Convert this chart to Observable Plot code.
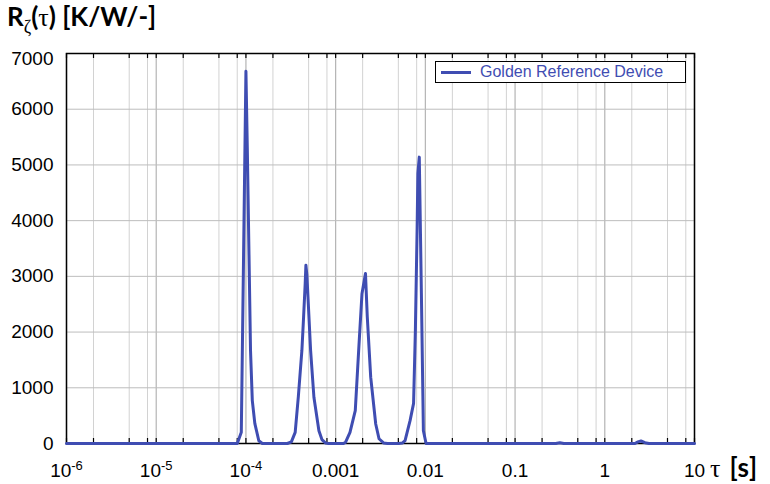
<!DOCTYPE html>
<html>
<head>
<meta charset="utf-8">
<script src="https://cdn.jsdelivr.net/npm/d3@7"></script>
<script src="https://cdn.jsdelivr.net/npm/@observablehq/plot@0.6"></script>
<style>
  html, body { margin: 0; padding: 0; background: #fff; }
  #wrap { position: relative; width: 770px; height: 484px; overflow: hidden; }
  #wrap svg { position: absolute; left: 0; top: 0; }
  .title { position: absolute; left: 7px; top: 1px; font: 700 26px Lato, sans-serif; line-height: 30px; color: #000; white-space: nowrap; }
  .serif { font-family: "Liberation Serif", "DejaVu Serif", serif; font-weight: 400; }
  .xlab { position: absolute; left: 710px; top: 452px; font: 700 26px Lato, sans-serif; line-height: 30px; white-space: nowrap; }
  .legend { position: absolute; left: 435px; top: 61px; width: 249px; height: 20px; border: 1px solid #000; background: #fff; }
  .legend .swatch { position: absolute; left: 5px; top: 9px; width: 30px; height: 3px; }
  .legend .txt { position: absolute; left: 44px; top: 0px; font: 16px "Liberation Sans", Arial, sans-serif; line-height: 20px; white-space: nowrap; }
</style>
</head>
<body>
<div id="wrap"></div>
<script>
// ---- data ----
const seriesName = "Golden Reference Device";
const tau = [
  1e-6, 8.01e-5, 8.88e-5, 1.0e-4, 1.036e-4, 1.125e-4, 1.178e-4, 1.256e-4, 1.392e-4, 1.523e-4,
  2.896e-4, 3.21e-4, 3.54e-4, 3.843e-4, 4.205e-4, 4.393e-4, 4.577e-4, 4.661e-4, 4.782e-4, 5.26e-4,
  5.726e-4, 6.51e-4, 7.033e-4, 7.694e-4, 8.313e-4,
  1.222e-3, 1.287e-3, 1.445e-3, 1.655e-3, 1.806e-3, 1.966e-3, 2.07e-3, 2.151e-3, 2.253e-3, 2.459e-3,
  2.797e-3, 3.044e-3, 3.418e-3, 3.787e-3,
  5.025e-3, 5.57e-3, 5.94e-3, 6.754e-3, 7.391e-3, 7.741e-3, 8.087e-3, 8.254e-3, 8.556e-3, 9.03e-3,
  9.508e-3, 1.019e-2,
  0.2844, 0.3154, 0.3495,
  2.168, 2.342, 2.53, 2.804, 3.107,
  10
];
const rzeta = [
  0, 0, 200, 6680, 5300, 1670, 770, 360, 50, 0,
  0, 30, 200, 850, 1670, 2270, 2870, 3200, 3020, 1670,
  830, 230, 70, 10, 0,
  0, 20, 200, 590, 1670, 2690, 2900, 3050, 2270, 1190,
  350, 85, 10, 0,
  0, 10, 50, 410, 720, 2030, 3820, 4850, 5140, 2700,
  230, 0,
  0, 15, 0,
  0, 30, 45, 15, 0,
  0
];
const xDecades = [1e-6, 1e-5, 1e-4, 1e-3, 1e-2, 1e-1, 1, 10];
const xMinorMantissas = [2, 5, 8];
const yTicks = [0, 1000, 2000, 3000, 4000, 5000, 6000, 7000];
const xTickLabels = ["10^-6", "10^-5", "10^-4", "0.001", "0.01", "0.1", "1", "10"];

// ---- derived tables ----
const data = tau.map((t, i) => ({tau: t, r: rzeta[i]}));
const minorTicks = xDecades.slice(0, -1).flatMap(d => xMinorMantissas.map(m => m * d));
const allXTicks = xDecades.concat(minorTicks);
const lineColor = "#3f4db2";

const plot = Plot.plot({
  width: 770,
  height: 484,
  marginLeft: 66,
  marginRight: 76,
  marginTop: 53,
  marginBottom: 41,
  style: {fontFamily: "'Liberation Sans', Arial, sans-serif", fontSize: "19px", background: "transparent", color: "#000"},
  x: {type: "log", domain: [1e-6, 10], label: null},
  y: {domain: [0, 7000], label: null},
  marks: [
    Plot.ruleX(minorTicks, {stroke: "#d2d2d2", strokeWidth: 1}),
    Plot.ruleX(xDecades, {stroke: "#b4b4b4", strokeWidth: 1.2}),
    Plot.ruleY(yTicks, {stroke: "#bdbdbd", strokeWidth: 1}),
    Plot.ruleX(allXTicks, {stroke: "#000", strokeWidth: 1.2, insetTop: 385}),
    Plot.ruleX(allXTicks, {stroke: "#000", strokeWidth: 1.2, insetBottom: 385}),
    Plot.frame({stroke: "#000", strokeWidth: 1.5}),
    Plot.line(data, {x: "tau", y: "r", stroke: lineColor, strokeWidth: 3, strokeLinejoin: "round"}),
    Plot.axisX({ticks: xDecades, tickSize: 0, tickPadding: 20, label: null,
      tickFormat: d => xTickLabels[xDecades.findIndex(v => Math.abs(Math.log10(v) - Math.log10(d)) < 1e-6)]}),
    Plot.axisY({ticks: yTicks, tickSize: 0, tickPadding: 13, label: null, tickFormat: d => String(d)})
  ]
});

// superscripts for 10^-n labels, and nudge the top y label like the original
d3.select(plot).selectAll('g[aria-label="x-axis tick label"] text').each(function() {
  const s = this.textContent;
  const m = s.match(/^10\^(.+)$/);
  if (m) {
    const t = d3.select(this);
    t.text(null);
    t.append("tspan").text("10");
    t.append("tspan").attr("font-size", "13px").attr("dy", "-7").text(m[1]);
  }
});
d3.select(plot).selectAll('g[aria-label="y-axis tick label"] text').each(function() {
  if (this.textContent === "7000") {
    this.setAttribute("transform", (this.getAttribute("transform") || "") + " translate(0,5)");
  }
});

const wrap = document.getElementById("wrap");
wrap.appendChild(plot);

const title = document.createElement("div");
title.className = "title";
title.innerHTML = 'R<span class="serif" style="font-size:18px;position:relative;top:7px;">ζ</span>(<span class="serif">τ</span>) [K/W/-]';
wrap.appendChild(title);

const xlab = document.createElement("div");
xlab.className = "xlab";
xlab.innerHTML = '<span class="serif" style="font-size:26px;margin-right:9px;">τ</span>[s]';
wrap.appendChild(xlab);

const legend = document.createElement("div");
legend.className = "legend";
legend.innerHTML = '<div class="swatch" style="background:' + lineColor + '"></div><div class="txt" style="color:' + lineColor + '"></div>';
legend.querySelector(".txt").textContent = seriesName;
wrap.appendChild(legend);
</script>
</body>
</html>
